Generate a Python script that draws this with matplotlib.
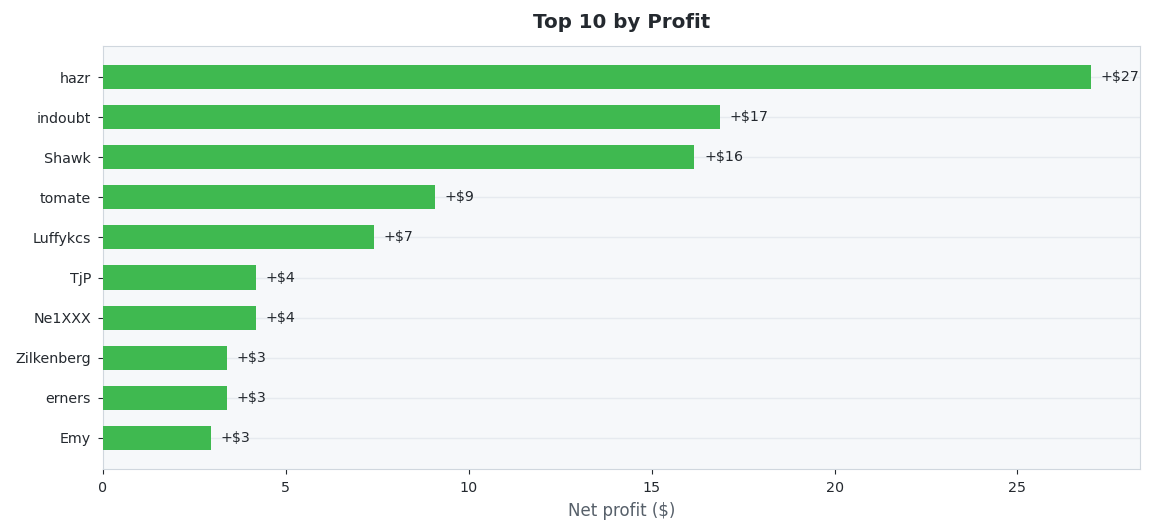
import matplotlib
matplotlib.use("Agg")
import matplotlib.pyplot as plt

# data (top 10 by net profit)
players = ["hazr", "indoubt", "Shawk", "tomate", "Luffykcs",
           "TjP", "Ne1XXX", "Zilkenberg", "erners", "Emy"]
profit = [27.0, 16.86, 16.17, 9.07, 7.40, 4.18, 4.18, 3.39, 3.39, 2.95]

textcolor = '#24292f'
bordercolor = '#d0d7de'

fig = plt.figure(figsize=(11.52, 5.31), dpi=100)
ax = fig.add_axes([0.0894, 0.1168, 0.9002, 0.7966])
ax.set_facecolor('#f6f8fa')

ypos = list(range(len(players)))
ax.barh(ypos, profit, height=0.6, color='#3fb950', zorder=3)
ax.set_yticks(ypos)
ax.set_yticklabels(players)
ax.invert_yaxis()

for y, v in zip(ypos, profit):
    ax.annotate(f"+${v:.0f}", xy=(v, y), xytext=(7, 0), textcoords='offset points',
                va='center', ha='left', fontsize=10.3, color=textcolor, zorder=4)

ax.set_xlim(0, max(profit) * 1.05)
ax.grid(axis='y', color='#e6eaef', linewidth=1, zorder=0)
ax.set_axisbelow(True)

for s in ax.spines.values():
    s.set_color(bordercolor)
ax.tick_params(axis='both', colors=textcolor, labelsize=10.3, pad=5)
ax.tick_params(axis='x', color=textcolor)

ax.set_xlabel('Net profit ($)', fontsize=12, color='#57606a', labelpad=5)
ax.set_title('Top 10 by Profit', fontsize=14.3, fontweight='bold', color=textcolor, pad=13)

plt.savefig('out.png')
